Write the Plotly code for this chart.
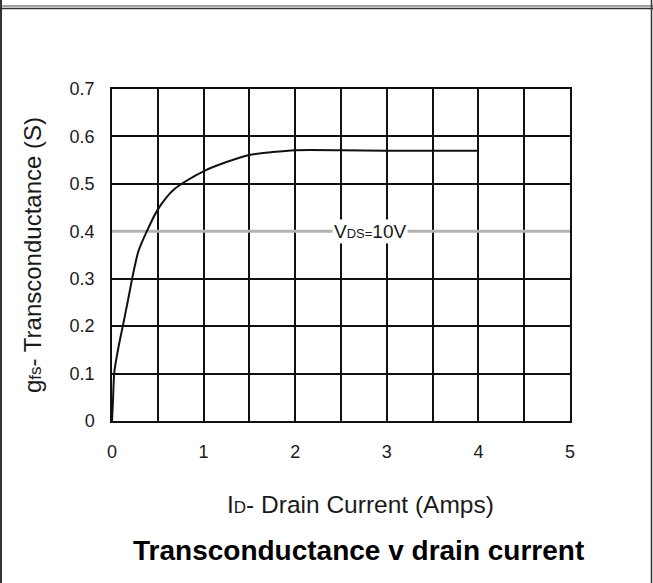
import plotly.graph_objects as go

# ---- data ----
drain_current = [0, 0.01, 0.025, 0.07, 0.123, 0.175, 0.226, 0.288, 0.39, 0.488,
                 0.588, 0.688, 0.8, 1.015, 1.25, 1.5, 1.75, 2.0, 2.5, 3.0, 3.5, 4.0]
transconductance = [0, 0.04, 0.103, 0.155, 0.205, 0.255, 0.306, 0.358, 0.404, 0.442,
                    0.47, 0.49, 0.505, 0.528, 0.546, 0.561, 0.567, 0.571, 0.571,
                    0.570, 0.570, 0.570]
x_ticks = [0, 1, 2, 3, 4, 5]
x_tick_labels = ["0", "1", "2", "3", "4", "5"]
y_ticks = [0, 0.1, 0.2, 0.3, 0.4, 0.5, 0.6, 0.7]
y_tick_labels = ["0", "0.1", "0.2", "0.3", "0.4", "0.5", "0.6", "0.7"]
vds_line_x = [0, 5]
vds_line_y = [0.4, 0.4]
vds_label_x = 2.82
vds_label_y = 0.4

W, H = 653, 583
L, R, T, B = 112, 83, 89, 162
PW, PH = W - L - R, H - T - B


def px(x):
    return (x - L) / PW


def py(y):
    return (H - B - y) / PH


FONT = "Liberation Sans, Arial, sans-serif"
TXT = "#1a1a1a"

fig = go.Figure()
fig.add_trace(go.Scatter(x=vds_line_x, y=vds_line_y, mode="lines",
                         line=dict(color="#b3b3b3", width=3),
                         hoverinfo="skip", showlegend=False))
fig.add_trace(go.Scatter(x=drain_current, y=transconductance, mode="lines",
                         line=dict(color="#111111", width=2, shape="spline", smoothing=0.6),
                         showlegend=False))

grid = dict(showgrid=True, gridcolor="#111111", gridwidth=1.5)
fig.update_xaxes(range=[0, 5], tickvals=x_ticks, ticktext=x_tick_labels,
                 showline=True, mirror=True, linecolor="#111111", linewidth=1.5,
                 zeroline=False, ticks="", ticklabelstandoff=14,
                 tickfont=dict(family=FONT, size=18, color=TXT),
                 minor=dict(dtick=0.5, showgrid=True, gridcolor="#111111", gridwidth=1.5),
                 **grid)
fig.update_yaxes(range=[0, 0.7], tickvals=y_ticks, ticktext=y_tick_labels,
                 showline=True, mirror=True, linecolor="#111111", linewidth=1.5,
                 zeroline=False, ticks="", ticklabelstandoff=12,
                 tickfont=dict(family=FONT, size=18, color=TXT),
                 **grid)

annotations = [
    dict(x=vds_label_x, y=vds_label_y, xref="x", yref="y",
         text="V<span style='font-size:13px'>DS=</span>10V", showarrow=False,
         font=dict(family=FONT, size=19, color=TXT), bgcolor="white", borderpad=1),
    dict(x=px(32), y=0.5, xref="paper", yref="paper", textangle=-90,
         text="g<span style='font-size:17px'>fs</span>- Transconductance (S)",
         showarrow=False, xanchor="center", yanchor="middle",
         font=dict(family=FONT, size=24, color=TXT)),
    dict(x=px(360), y=py(504), xref="paper", yref="paper",
         text="I<span style='font-size:17px'>D</span>- Drain Current (Amps)",
         showarrow=False, xanchor="center", yanchor="middle",
         font=dict(family=FONT, size=24.5, color=TXT)),
    dict(x=px(358), y=py(550), xref="paper", yref="paper",
         text="<b>Transconductance v drain current</b>",
         showarrow=False, xanchor="center", yanchor="middle",
         font=dict(family=FONT, size=28, color="#000000")),
]

shapes = [
    dict(type="line", xref="paper", yref="paper", x0=px(1), x1=px(1), y0=py(H), y1=py(0),
         line=dict(color="#333333", width=2)),
    dict(type="line", xref="paper", yref="paper", x0=px(651.5), x1=px(651.5), y0=py(H), y1=py(0),
         line=dict(color="#333333", width=1.5)),
    dict(type="line", xref="paper", yref="paper", x0=px(0), x1=px(W), y0=py(6), y1=py(6),
         line=dict(color="#444444", width=1)),
    dict(type="line", xref="paper", yref="paper", x0=px(0), x1=px(W), y0=py(8.5), y1=py(8.5),
         line=dict(color="#333333", width=1.5)),
]

fig.update_layout(width=W, height=H, margin=dict(l=L, r=R, t=T, b=B),
                  paper_bgcolor="white", plot_bgcolor="white",
                  annotations=annotations, shapes=shapes, showlegend=False)

fig.write_html("out.html", config={"displayModeBar": False},
               post_script="document.body.style.margin='0';document.body.style.padding='0';"
                           "document.documentElement.style.overflow='hidden';")
